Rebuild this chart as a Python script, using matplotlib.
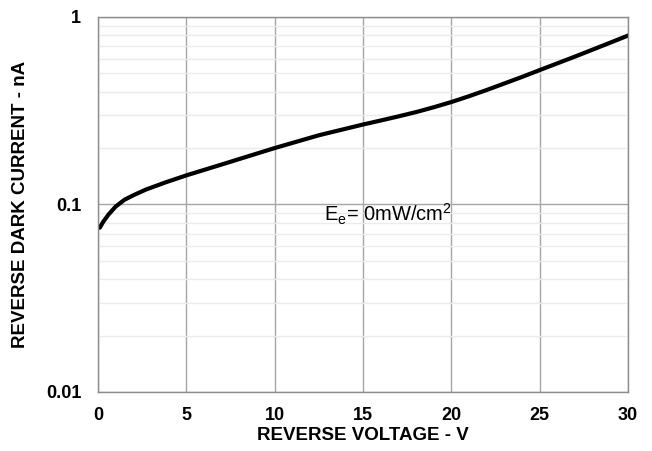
import matplotlib
matplotlib.use("Agg")
import matplotlib.pyplot as plt
from matplotlib.ticker import LogLocator, NullFormatter

plt.rcParams['font.family'] = ['Liberation Sans', 'DejaVu Sans']

voltage = [0.1, 0.3, 0.6, 1.0, 1.5, 2.0, 2.7, 3.8, 5, 7.5, 10, 12.5, 15, 16, 17, 18, 19, 20, 21, 22, 23, 24, 25, 26, 27, 28, 29, 30]
current = [0.0752, 0.081, 0.0885, 0.0975, 0.106, 0.112, 0.12, 0.131, 0.143, 0.169, 0.2, 0.234, 0.267, 0.2805, 0.295, 0.311,
           0.33, 0.352, 0.378, 0.408, 0.442, 0.479, 0.521, 0.566, 0.615, 0.67, 0.73, 0.796]
xticks = [0, 5, 10, 15, 20, 25, 30]
yticks = [0.01, 0.1, 1]
ytick_labels = ['0.01', '0.1', '1']

fig = plt.figure(figsize=(6.52, 4.51), dpi=100)
ax = fig.add_axes([98/652, 1-392/451, (628-98)/652, (392-17)/451])
ax.set_yscale('log')
ax.set_xlim(0, 30)
ax.set_ylim(0.01, 1)

ax.yaxis.set_minor_locator(LogLocator(base=10, subs=range(2, 10)))
ax.yaxis.set_minor_formatter(NullFormatter())
ax.set_yticks(yticks)
ax.set_yticklabels(ytick_labels)
ax.set_xticks(xticks)
ax.grid(True, which='minor', axis='y', color='#ebebeb', linewidth=1.0)
ax.grid(True, which='major', axis='y', color='#a6a6a6', linewidth=1.0)
ax.grid(True, which='major', axis='x', color='#a6a6a6', linewidth=1.0)
ax.set_axisbelow(True)
ax.tick_params(which='both', length=0, labelsize=13)
ax.tick_params(axis='y', pad=12)
ax.tick_params(axis='x', pad=11)
for lab in ax.get_xticklabels() + ax.get_yticklabels():
    lab.set_fontweight('bold')
for s in ax.spines.values():
    s.set_color('#8c8c8c')
    s.set_linewidth(1.0)

ax.plot(voltage, current, color='black', linewidth=3, solid_capstyle='round', solid_joinstyle='round')

ax.text(20.05, 0.0885, r'E$_\mathregular{e}$= 0mW/cm$^\mathregular{2}$', ha='right', va='center', fontsize=14.5)

ax.set_xlabel('REVERSE VOLTAGE - V', fontweight='bold', fontsize=13.5, labelpad=2)
ax.set_ylabel('REVERSE DARK CURRENT - nA', fontweight='bold', fontsize=13.5, labelpad=12)

fig.savefig('out.png', dpi=100)
